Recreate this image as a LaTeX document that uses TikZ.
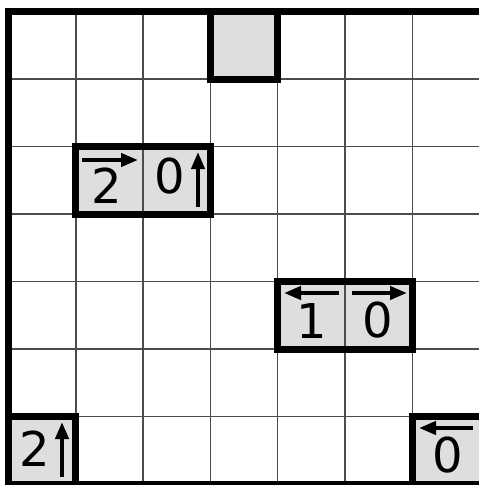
\documentclass[tikz,border=0pt]{standalone}
\usepackage{fontspec}
\setmainfont{DejaVu Sans}
\usetikzlibrary{arrows.meta}
\begin{document}
\begin{tikzpicture}[x=1pt,y=-1pt,
  thingrid/.style={draw=black!70, line width=1.5pt},
  thickborder/.style={draw=black, line width=7pt, line join=miter, line cap=rect},
  cellfill/.style={fill=black!13},
  clue/.style={font=\fontsize{48}{48}\selectfont, inner sep=0pt, anchor=center},
  ptr/.style={line width=4pt, -{Triangle[length=17pt,width=13pt]}}]
\useasboundingbox (0,0) rectangle (479,485);
\fill[white] (0,0) rectangle (479,485);
% column and row lines (px)
\def\xa{8.5}\def\xb{75.8}\def\xc{143.1}\def\xd{210.4}\def\xe{277.7}\def\xf{345}\def\xg{412.3}\def\xh{483}
\def\ya{11.5}\def\yb{79}\def\yc{146.5}\def\yd{214}\def\ye{281.5}\def\yf{349}\def\yg{416.5}\def\yh{484}
% gray cells
\fill[cellfill] (\xd,\ya) rectangle (\xe,\yb);
\fill[cellfill] (\xb,\yc) rectangle (\xd,\yd);
\fill[cellfill] (\xe,\ye) rectangle (\xg,\yf);
\fill[cellfill] (\xa,\yg) rectangle (\xb,\yh);
\fill[cellfill] (\xg,\yg) rectangle (\xh,\yh);
% thin grid
\foreach \x in {\xb,\xc,\xd,\xe,\xf,\xg} \draw[thingrid] (\x,\ya) -- (\x,\yh);
\foreach \y in {\yb,\yc,\yd,\ye,\yf,\yg} \draw[thingrid] (\xa,\y) -- (\xh,\y);
% thick borders
\draw[thickborder] (\xd,\ya) rectangle (\xe,\yb);
\draw[thickborder] (\xb,\yc) rectangle (\xd,\yd);
\draw[thickborder] (\xe,\ye) rectangle (\xg,\yf);
\draw[thickborder] (\xa,\yg) rectangle (\xb,\yh);
\draw[thickborder] (\xg,\yg) rectangle (\xh,\yh);
\draw[thickborder] (\xa,\ya) rectangle (\xh,\yh);
% clues
\node[clue] (c12) at (107,185.5) {2};
\draw[ptr] (82,160) -- (138,160);
\node[clue] (c22) at (170,176.5) {0};
\draw[ptr] (198,207) -- (198,152);
\node[clue] (c44) at (312,320.5) {1};
\draw[ptr] (339,293) -- (284,293);
\node[clue] (c54) at (378,320.5) {0};
\draw[ptr] (352,293) -- (407,293);
\node[clue] (c06) at (35,448.5) {2};
\draw[ptr] (62,477) -- (62,422);
\node[clue] (c66) at (448,455) {0};
\draw[ptr] (473,428) -- (419,428);
\end{tikzpicture}
\end{document}
